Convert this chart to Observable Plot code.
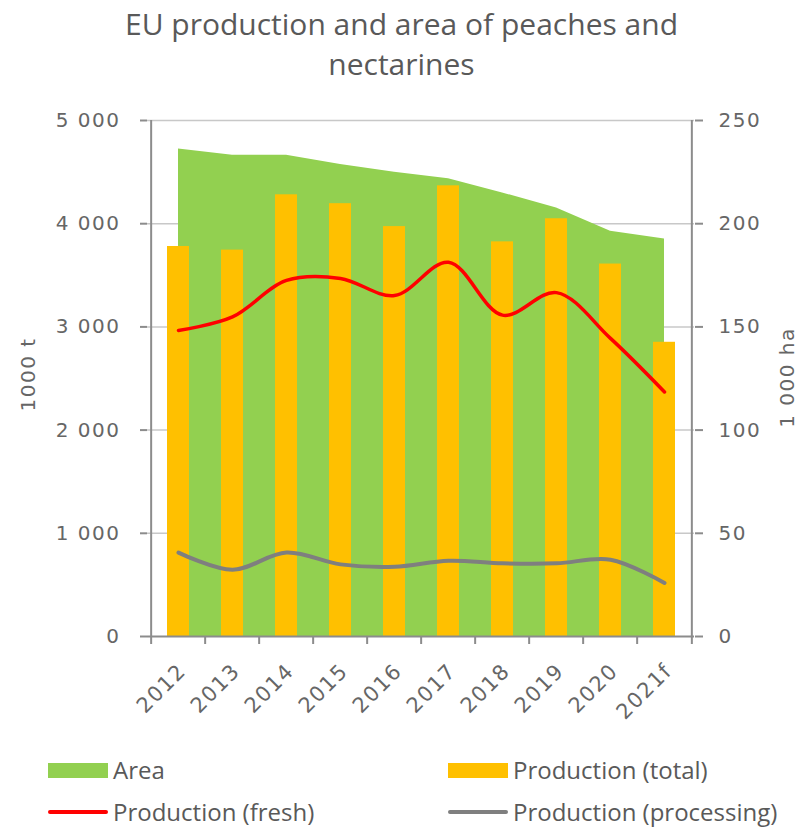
<!DOCTYPE html>
<html>
<head>
<meta charset="utf-8">
<script src="https://cdn.jsdelivr.net/npm/d3@7"></script>
<script src="https://cdn.jsdelivr.net/npm/@observablehq/plot@0.6"></script>
<style>
  body { margin: 0; background: #fff; }
  #wrap { position: relative; width: 803px; height: 827px; overflow: hidden; font-family: "Open Sans", sans-serif; color: #595959; background: #fff; }
  #title { position: absolute; top: 4px; left: 0; width: 803px; text-align: center; font-size: 30px; line-height: 40px; }
  #chart { position: absolute; top: 90px; left: 0; }
  .leg { position: absolute; font-size: 24px; line-height: 26px; height: 26px; display: flex; align-items: center; white-space: nowrap; }
  .sw { width: 60px; height: 15px; margin-right: 5px; }
  .ln { width: 60px; height: 4px; margin-right: 5px; border-radius: 2px; }
</style>
</head>
<body>
<div id="wrap">
  <div id="title">EU production and area of peaches and<br>nectarines</div>
  <div id="chart"></div>
  <div class="leg" style="left:48px;top:757px;"><div class="sw" style="background:#92D050"></div>Area</div>
  <div class="leg" style="left:448px;top:757px;"><div class="sw" style="background:#FFC000"></div>Production (total)</div>
  <div class="leg" style="left:48px;top:799px;"><div class="ln" style="background:#FF0000"></div>Production (fresh)</div>
  <div class="leg" style="left:448px;top:799px;"><div class="ln" style="background:#7F7F7F"></div>Production (processing)</div>
</div>
<script>
// ---- data ----
const years = ["2012", "2013", "2014", "2015", "2016", "2017", "2018", "2019", "2020", "2021f"];
const areaHa = [236.2, 233.2, 233.2, 228.7, 224.9, 221.8, 214.9, 207.6, 196.4, 192.6];        // 1 000 ha (right axis)
const prodTotal = [3779, 3744, 4280, 4194, 3972, 4367, 3824, 4048, 3609, 2851];                  // 1000 t
const prodFresh = [2965, 3097, 3450, 3470, 3304, 3626, 3114, 3332, 2889, 2370];                  // 1000 t
const prodProcessing = [813, 647, 813, 699, 675, 734, 709, 709, 744, 519];                       // 1000 t
const leftTicks = [0, 1000, 2000, 3000, 4000, 5000];
const rightTicks = [0, 50, 100, 150, 200, 250];

const ratio = leftTicks[leftTicks.length - 1] / rightTicks[rightTicks.length - 1];
const rows = years.map((year, i) => ({
  year, area: areaHa[i], total: prodTotal[i], fresh: prodFresh[i], processing: prodProcessing[i]
}));

const W = 803, H = 640, ML = 147, MR = 109, MT = 30, MB = 94;
const step = (W - ML - MR) / years.length;
const axisColor = "#8c8c8c", gridColor = "#c8c8c8", textColor = "#666666";
const fmt = d => d3.format(",")(d).replace(/,/g, "\u00a0");

const chart = Plot.plot({
  width: W, height: H,
  marginLeft: ML, marginRight: MR, marginTop: MT, marginBottom: MB,
  style: { fontFamily: "DejaVu Sans, sans-serif", fontSize: "20px", background: "white", letterSpacing: "1.5px", overflow: "visible" },
  x: { type: "band", domain: years, paddingInner: 0.6, paddingOuter: 0.3, axis: null },
  y: { domain: [0, 5000], axis: null },
  marks: [
    Plot.ruleY(leftTicks.filter(d => d > 0), { stroke: gridColor, strokeWidth: 1.5 }),
    Plot.areaY(rows, { x: "year", y: d => d.area * ratio, fill: "#92D050" }),
    Plot.barY(rows, { x: "year", y: "total", fill: "#FFC000" }),
    Plot.line(rows, { x: "year", y: "fresh", stroke: "#FF0000", strokeWidth: 3.5, curve: "catmull-rom" }),
    Plot.line(rows, { x: "year", y: "processing", stroke: "#7F7F7F", strokeWidth: 4, curve: "catmull-rom" }),
    Plot.ruleY([0], { stroke: axisColor, strokeWidth: 2 }),
    Plot.ruleX([years[0]], { dx: -step / 2, stroke: axisColor, strokeWidth: 2 }),
    Plot.ruleX([years[years.length - 1]], { dx: step / 2, stroke: axisColor, strokeWidth: 2 }),
    Plot.axisX({ ticks: years, tickSize: 8, tickFormat: () => "", dx: -step / 2, stroke: axisColor, strokeWidth: 2, label: null }),
    Plot.axisX({ ticks: [years[years.length - 1]], tickSize: 8, tickFormat: () => "", dx: step / 2, stroke: axisColor, strokeWidth: 2, label: null }),
    Plot.axisX({ ticks: years, tickSize: 0, tickRotate: -45, tickPadding: 31, dx: 4, fill: textColor, fontSize: 21, label: null }),
    Plot.axisY({ anchor: "left", ticks: leftTicks, tickSize: 7, tickPadding: 20, tickFormat: fmt, stroke: axisColor, strokeWidth: 2, fill: textColor, fontSize: 20, label: null }),
    Plot.axisY({ anchor: "right", ticks: leftTicks, tickSize: 8, tickPadding: 16, tickFormat: d => d / ratio, stroke: axisColor, strokeWidth: 2, fill: textColor, fontSize: 20, label: null }),
    Plot.text(["1000 t"], { frameAnchor: "left", textAnchor: "middle", dx: -(ML - 28), dy: -4, rotate: -90, text: d => d, fill: textColor, fontSize: 20 }),
    Plot.text(["1 000 ha"], { frameAnchor: "right", textAnchor: "middle", dx: 93, dy: -1, rotate: -90, text: d => d, fill: textColor, fontSize: 20 })
  ]
});
document.getElementById("chart").appendChild(chart);
</script>
</body>
</html>
